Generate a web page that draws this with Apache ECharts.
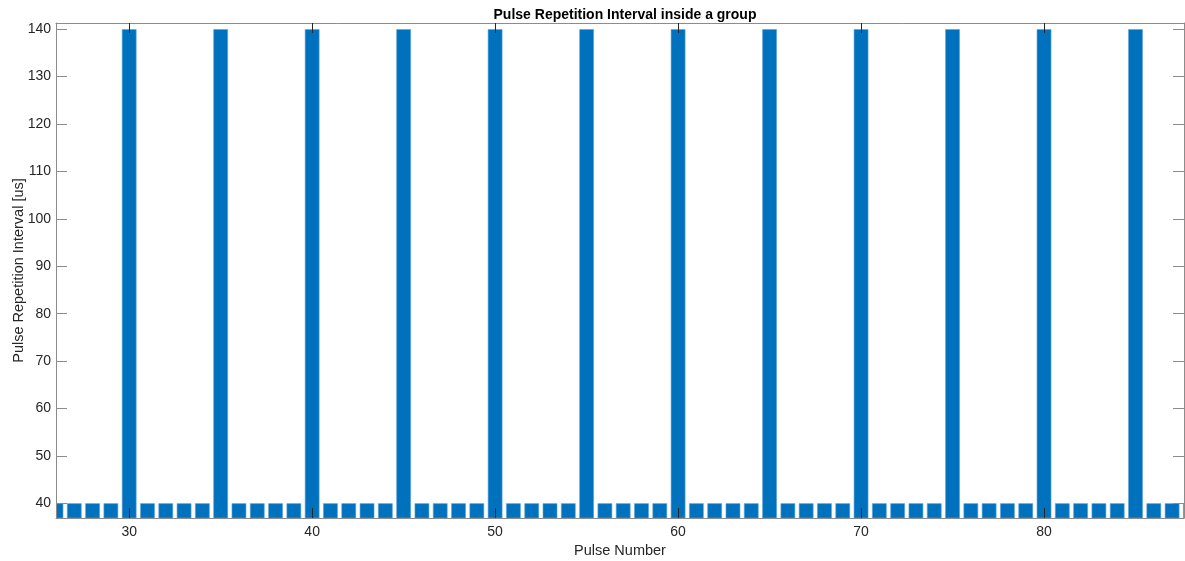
<!DOCTYPE html>
<html>
<head>
<meta charset="utf-8">
<title>Pulse Repetition Interval</title>
<script src="https://cdn.jsdelivr.net/npm/echarts@6/dist/echarts.min.js"></script>
<style>
  html, body { margin: 0; padding: 0; background: #fff; }
  #main { width: 1185px; height: 561px; }
</style>
</head>
<body>
<div id="main"></div>
<script>
// pulse numbers shown on the chart
const pulseNumbers = [
  26, 27, 28, 29, 30, 31, 32, 33, 34, 35, 36, 37, 38, 39, 40,
  41, 42, 43, 44, 45, 46, 47, 48, 49, 50, 51, 52, 53, 54, 55,
  56, 57, 58, 59, 60, 61, 62, 63, 64, 65, 66, 67, 68, 69, 70,
  71, 72, 73, 74, 75, 76, 77, 78, 79, 80, 81, 82, 83, 84, 85,
  86, 87, 88
]
// PRI in microseconds, one per pulse
const priValues = [
  40, 40, 40, 40, 140, 40, 40, 40, 40, 140, 40, 40, 40, 40, 140,
  40, 40, 40, 40, 140, 40, 40, 40, 40, 140, 40, 40, 40, 40, 140,
  40, 40, 40, 40, 140, 40, 40, 40, 40, 140, 40, 40, 40, 40, 140,
  40, 40, 40, 40, 140, 40, 40, 40, 40, 140, 40, 40, 40, 40, 140,
  40, 40, 40
]
const xTicks = [30, 40, 50, 60, 70, 80]
const yTicks = [40, 50, 60, 70, 80, 90, 100, 110, 120, 130, 140]

const chart = echarts.init(document.getElementById('main'))

const axisColor = '#8c8c8c'
const textColor = '#262626'
const font = 'Helvetica, "Liberation Sans", Arial, sans-serif'

const xRange = { min: 26, max: 87.65 }
const yRange = { min: 36.9, max: 141.3 }

// plot box in pixels
const box = { left: 56, right: 1, top: 23, bottom: 43 }

chart.setOption({
  animation: false,
  title: {
    text: 'Pulse Repetition Interval inside a group',
    left: 620,
    textAlign: 'center',
    top: 3,
    textStyle: { fontSize: 14, fontWeight: 'bold', color: '#000', fontFamily: font }
  },
  grid: { left: box.left, right: box.right, top: box.top, bottom: box.bottom, containLabel: false, outerBoundsMode: 'none' },
  // white masks so bars that stick out of the plot box get cut like in the original
  graphic: [
    { type: 'rect', z: 5, silent: true, shape: { x: 0, y: 0, width: box.left, height: 561 }, style: { fill: '#fff' } },
    { type: 'rect', z: 5, silent: true, shape: { x: 1185 - box.right, y: 0, width: 20, height: 561 }, style: { fill: '#fff' } }
  ],
  xAxis: [
    {
      type: 'value',
      z: 10,
      min: xRange.min,
      max: xRange.max,
      name: 'Pulse Number',
      nameLocation: 'middle',
      nameGap: 25,
      nameMoveOverlap: false,
      nameTextStyle: { fontSize: 14.5, color: textColor, fontFamily: font },
      axisLine: { show: true, lineStyle: { color: axisColor } },
      axisTick: { show: true, inside: true, length: 10, customValues: xTicks, lineStyle: { color: textColor } },
      axisLabel: { customValues: xTicks, fontSize: 14, color: textColor, fontFamily: font, margin: 7 },
      splitLine: { show: false }
    },
    {
      type: 'value',
      z: 10,
      position: 'top',
      min: xRange.min,
      max: xRange.max,
      axisLine: { show: true, lineStyle: { color: axisColor } },
      axisTick: { show: true, inside: true, length: 10, customValues: xTicks, lineStyle: { color: textColor } },
      axisLabel: { show: false },
      splitLine: { show: false }
    }
  ],
  yAxis: [
    {
      type: 'value',
      z: 10,
      min: yRange.min,
      max: yRange.max,
      name: 'Pulse Repetition Interval [us]',
      nameLocation: 'middle',
      nameGap: 30,
      nameMoveOverlap: false,
      nameTextStyle: { fontSize: 14.5, color: textColor, fontFamily: font },
      axisLine: { show: true, lineStyle: { color: axisColor } },
      axisTick: { show: true, inside: true, length: 11, customValues: yTicks, lineStyle: { color: axisColor } },
      axisLabel: { customValues: yTicks, fontSize: 14, color: textColor, fontFamily: font, margin: 5 },
      splitLine: { show: false }
    },
    {
      type: 'value',
      z: 10,
      position: 'right',
      min: yRange.min,
      max: yRange.max,
      axisLine: { show: true, lineStyle: { color: axisColor } },
      axisTick: { show: true, inside: true, length: 11, customValues: yTicks, lineStyle: { color: axisColor } },
      axisLabel: { show: false },
      splitLine: { show: false }
    }
  ],
  series: [
    {
      type: 'bar',
      barWidth: 14.6,
      data: pulseNumbers.map((p, i) => [p, priValues[i]]),
      itemStyle: { color: '#0072BD', borderColor: '#5aa2d8', borderWidth: 0.6 },
      z: 1
    }
  ]
})
</script>
</body>
</html>
